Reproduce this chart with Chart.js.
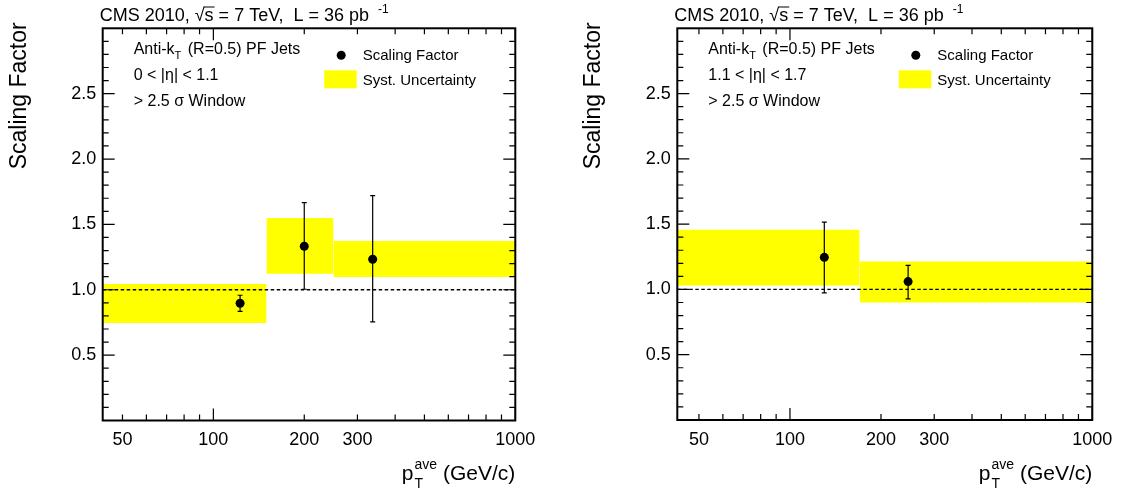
<!DOCTYPE html>
<html>
<head>
<meta charset="utf-8">
<script src="https://cdn.jsdelivr.net/npm/chart.js@4.4.1/dist/chart.umd.min.js"></script>
<style>
    body { margin: 0; background: #fff; }
    #wrap { position: relative; width: 1123px; height: 495px; }
    canvas { position: absolute; top: 0; }
</style>
</head>
<body>
<div id="wrap">
    <canvas id="left" width="561" height="495" style="left:0"></canvas>
    <canvas id="right" width="562" height="495" style="left:561px"></canvas>
</div>
<script>
// axis ranges
const xRangeLeft = [43, 1000];
const xRangeRight = [42.4, 1000];
const yRange = [0, 3];
const xTickLabels = [50, 100, 200, 300, 1000];
const yTickLabels = [0.5, 1.0, 1.5, 2.0, 2.5];

// left panel, 0 < |eta| < 1.1
const leftBandEdges = [43, 150, 250, 1000];
const leftBandLow = [0.746, 1.123, 1.098];
const leftBandHigh = [1.044, 1.549, 1.373];
const leftPtX = [122.6, 200, 337];
const leftPtY = [0.897, 1.333, 1.233];
const leftErrLow = [0.835, 1.004, 0.754];
const leftErrHigh = [0.958, 1.666, 1.72];

// right panel, 1.1 < |eta| < 1.7
const rightBandEdges = [42.4, 170, 1000];
const rightBandLow = [1.031, 0.899];
const rightBandHigh = [1.457, 1.213];
const rightPtX = [129.9, 245.9];
const rightPtY = [1.246, 1.060];
const rightErrLow = [0.973, 0.927];
const rightErrHigh = [1.516, 1.184];

const etaLabels = ["0 < |η| < 1.1", "1.1 < |η| < 1.7"];
const FONT = '"Liberation Sans", Arial, Helvetica, sans-serif';

const framePlugin = {
    id: 'frame',
    afterDatasetsDraw(chart, args, opts) {
        const ctx = chart.ctx;
        const a = chart.chartArea;
        const xs = chart.scales.x, ys = chart.scales.y;
        ctx.save();
        ctx.fillStyle = '#000';
        ctx.strokeStyle = '#000';

        // error bars
        ctx.lineWidth = 1.2;
        for (let i = 0; i < opts.ptX.length; i++) {
            const px = xs.getPixelForValue(opts.ptX[i]);
            const lo = ys.getPixelForValue(opts.errLow[i]);
            const hi = ys.getPixelForValue(opts.errHigh[i]);
            ctx.beginPath();
            ctx.moveTo(px, lo); ctx.lineTo(px, hi);
            ctx.moveTo(px - 2.5, lo); ctx.lineTo(px + 2.5, lo);
            ctx.moveTo(px - 2.5, hi); ctx.lineTo(px + 2.5, hi);
            ctx.stroke();
        }

        // frame
        ctx.lineWidth = 2;
        ctx.strokeRect(a.left, a.top, a.right - a.left, a.bottom - a.top);

        // y ticks on both sides
        ctx.lineWidth = 1.2;
        ctx.beginPath();
        for (let k = 1; k < 30; k++) {
            const v = k / 10;
            const py = ys.getPixelForValue(v);
            const len = (k % 5 === 0) ? 12 : 6;
            ctx.moveTo(a.left, py); ctx.lineTo(a.left + len, py);
            ctx.moveTo(a.right, py); ctx.lineTo(a.right - len, py);
        }
        // x ticks on log scale, top and bottom
        for (let dec = 10; dec <= 1000; dec *= 10) {
            for (let m = 1; m < 10; m++) {
                const v = dec * m;
                if (v < xs.min || v > xs.max) continue;
                const px = xs.getPixelForValue(v);
                const len = (m === 1) ? 12 : 6;
                ctx.moveTo(px, a.bottom); ctx.lineTo(px, a.bottom - len);
                ctx.moveTo(px, a.top); ctx.lineTo(px, a.top + len);
            }
        }
        ctx.stroke();

        // tick labels
        ctx.font = '18px ' + FONT;
        ctx.textAlign = 'center';
        ctx.textBaseline = 'alphabetic';
        xTickLabels.forEach(v => {
            ctx.fillText(String(v), xs.getPixelForValue(v), a.bottom + 24.5);
        });
        ctx.textAlign = 'right';
        ctx.textBaseline = 'middle';
        yTickLabels.forEach(v => {
            ctx.fillText(v.toFixed(1), a.left - 6.5, ys.getPixelForValue(v));
        });

        // axis titles
        ctx.textBaseline = 'alphabetic';
        ctx.save();
        ctx.translate(a.left - 77, a.top - 6);
        ctx.rotate(-Math.PI / 2);
        ctx.font = '23px ' + FONT;
        ctx.textAlign = 'right';
        ctx.fillText('Scaling Factor', 0, 0);
        ctx.restore();

        ctx.textAlign = 'left';
        ctx.font = '21px ' + FONT;
        const gev = '(GeV/c)';
        const wGev = ctx.measureText(gev).width;
        const gx = a.right - wGev;
        ctx.fillText(gev, gx, 480);
        ctx.font = '14px ' + FONT;
        const wAve = ctx.measureText('ave').width;
        const supX = gx - 6 - wAve;
        ctx.fillText('ave', supX, 469);
        ctx.fillText('T', supX, 488);
        ctx.font = '21px ' + FONT;
        ctx.fillText('p', supX - ctx.measureText('p').width - 1, 480);

        // CMS header
        let x = a.left - 3;
        const base = 21;
        ctx.font = '18px ' + FONT;
        const seg = (t) => { ctx.fillText(t, x, base); x += ctx.measureText(t).width; };
        seg('CMS 2010, ');
        seg('√');
        const sx = x;
        seg('s');
        ctx.lineWidth = 1;
        ctx.beginPath();
        ctx.moveTo(sx - 1, base - 14); ctx.lineTo(x + 1, base - 14);
        ctx.stroke();
        seg(' = 7 TeV,  L = 36 pb');
        ctx.font = '12px ' + FONT;
        ctx.fillText('-1', x + 9, base - 8);

        // text block
        const tx = a.left + 31;
        ctx.font = '16px ' + FONT;
        ctx.fillText('Anti-k', tx, a.top + 26);
        let w = ctx.measureText('Anti-k').width;
        ctx.font = '11px ' + FONT;
        ctx.fillText('T', tx + w, a.top + 31);
        w += ctx.measureText('T').width + 2;
        ctx.font = '16px ' + FONT;
        ctx.fillText(' (R=0.5) PF Jets', tx + w, a.top + 26);
        ctx.fillText(opts.eta, tx, a.top + 52);
        ctx.fillText('> 2.5 σ Window', tx, a.top + 78);

        // legend
        ctx.beginPath();
        ctx.arc(a.left + 238.5, a.top + 27, 4.5, 0, Math.PI * 2);
        ctx.fill();
        ctx.fillStyle = '#ffff00';
        ctx.fillRect(a.left + 221.5, a.top + 42, 32.5, 18);
        ctx.fillStyle = '#000';
        ctx.font = '15px ' + FONT;
        ctx.fillText('Scaling Factor', a.left + 260, a.top + 32);
        ctx.fillText('Syst. Uncertainty', a.left + 260, a.top + 57);
        ctx.restore();
    }
};

function bandDatasets(edges, low, high) {
    const sets = [];
    for (let i = 0; i < low.length; i++) {
        sets.push({
            data: [{x: edges[i], y: high[i]}, {x: edges[i + 1], y: high[i]}],
            fill: '+1',
            backgroundColor: '#ffff00',
            borderWidth: 0,
            pointRadius: 0,
            order: 3
        });
        sets.push({
            data: [{x: edges[i], y: low[i]}, {x: edges[i + 1], y: low[i]}],
            fill: false,
            borderWidth: 0,
            pointRadius: 0,
            order: 3
        });
    }
    return sets;
}

function makeChart(id, xRange, edges, low, high, ptX, ptY, errLow, errHigh, eta, pad) {
    const datasets = bandDatasets(edges, low, high);
    datasets.push({
        data: [{x: xRange[0], y: 1}, {x: xRange[1], y: 1}],
        borderColor: '#000',
        borderWidth: 1.3,
        borderDash: [3.5, 2.5],
        pointRadius: 0,
        fill: false,
        order: 2
    });
    datasets.push({
        data: ptX.map((v, i) => ({x: v, y: ptY[i]})),
        showLine: false,
        pointRadius: 4.5,
        pointBackgroundColor: '#000',
        pointBorderWidth: 0,
        order: 1
    });
    return new Chart(document.getElementById(id), {
        type: 'line',
        data: {datasets: datasets},
        options: {
            responsive: false,
            animation: false,
            layout: {padding: pad},
            plugins: {
                legend: {display: false},
                tooltip: {enabled: false},
                frame: {ptX: ptX, errLow: errLow, errHigh: errHigh, eta: eta}
            },
            scales: {
                x: {type: 'logarithmic', min: xRange[0], max: xRange[1], display: false},
                y: {type: 'linear', min: yRange[0], max: yRange[1], display: false}
            }
        },
        plugins: [framePlugin]
    });
}

makeChart('left', xRangeLeft, leftBandEdges, leftBandLow, leftBandHigh,
    leftPtX, leftPtY, leftErrLow, leftErrHigh, etaLabels[0],
    {left: 102.7, top: 28.3, right: 45.7, bottom: 74.5});
makeChart('right', xRangeRight, rightBandEdges, rightBandLow, rightBandHigh,
    rightPtX, rightPtY, rightErrLow, rightErrHigh, etaLabels[1],
    {left: 116.3, top: 28.3, right: 30.7, bottom: 75});
</script>
</body>
</html>
